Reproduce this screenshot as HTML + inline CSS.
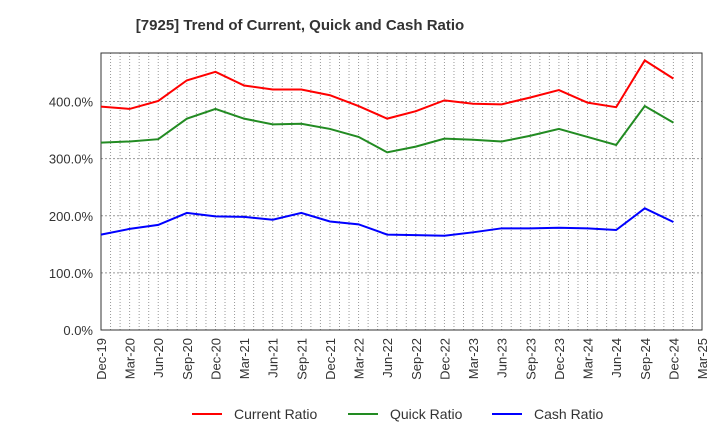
<!DOCTYPE html>
<html><head><meta charset="utf-8"><style>body{margin:0;background:#fff}svg{font-family:"Liberation Sans",sans-serif}</style></head>
<body>
<svg id="c" width="720" height="440"></svg>
<script>
const categories=["Dec-19","Mar-20","Jun-20","Sep-20","Dec-20","Mar-21","Jun-21","Sep-21","Dec-21","Mar-22","Jun-22","Sep-22","Dec-22","Mar-23","Jun-23","Sep-23","Dec-23","Mar-24","Jun-24","Sep-24","Dec-24","Mar-25"];
const currentRatio=[391,387,401,437,452,428,421,421,411,392,370,383,402,396,395,407,420,398,390,472,440];
const quickRatio=[328,330,334,370,387,370,360,361,352,338,311,321,335,333,330,340,352,338,324,392,363];
const cashRatio=[167,177,184,205,199,198,193,205,190,185,167,166,165,171,178,178,179,178,175,213,189];
const yTicks=[0,100,200,300,400];
const NS="http://www.w3.org/2000/svg",svg=document.getElementById('c');
const L=101,R=702,T=53,B=330;
const x=i=>L+i*(R-L)/21, y=v=>B-v*(B-101.5)/400;
function el(t,a,p){const e=document.createElementNS(NS,t);for(const k in a)e.setAttribute(k,a[k]);(p||svg).appendChild(e);return e;}
const title=el('text',{x:300,y:30,'text-anchor':'middle','font-size':15,'font-weight':'bold',fill:'#333'});title.textContent="[7925]  Trend of Current, Quick and Cash Ratio";

for(let m=1;m<63;m++){const xx=L+m*(R-L)/63;const g=el('line',{x1:xx,x2:xx,y1:T,y2:B,stroke:'#999','stroke-dasharray':'1,2','stroke-width':1});}
yTicks.forEach(v=>{if(v>0){const g=el('line',{x1:L,x2:R,y1:y(v),y2:y(v),stroke:'#999','stroke-dasharray':'2,2'});}
const t=el('text',{x:93,y:y(v)+5,'text-anchor':'end','font-size':13,fill:'#333'});t.textContent=v.toFixed(1)+"%";});
const fr=el('rect',{x:L,y:T,width:R-L,height:B-T,fill:'none',stroke:'#333'});
categories.forEach((c,i)=>{const t=el('text',{transform:`translate(${x(i)+5},${B+8}) rotate(-90)`,'text-anchor':'end','font-size':13,fill:'#333'});t.textContent=c;});
[[currentRatio,'#f00','current-ratio-line'],[quickRatio,'#228b22','quick-ratio-line'],[cashRatio,'#00f','cash-ratio-line']].forEach(([d,c,n])=>{const p=el('polyline',{points:d.map((v,i)=>x(i)+','+y(v)).join(' '),fill:'none',stroke:c,'stroke-width':2});});
[["Current Ratio",'#f00',192],["Quick Ratio",'#228b22',348],["Cash Ratio",'#00f',492]].forEach(([n,c,lx])=>{const g=el('g',{});
el('line',{x1:lx,x2:lx+30,y1:414,y2:414,stroke:c,'stroke-width':2},g);const t=el('text',{x:lx+42,y:419,'font-size':14,fill:'#333'},g);t.textContent=n;});
</script>
</body></html>
